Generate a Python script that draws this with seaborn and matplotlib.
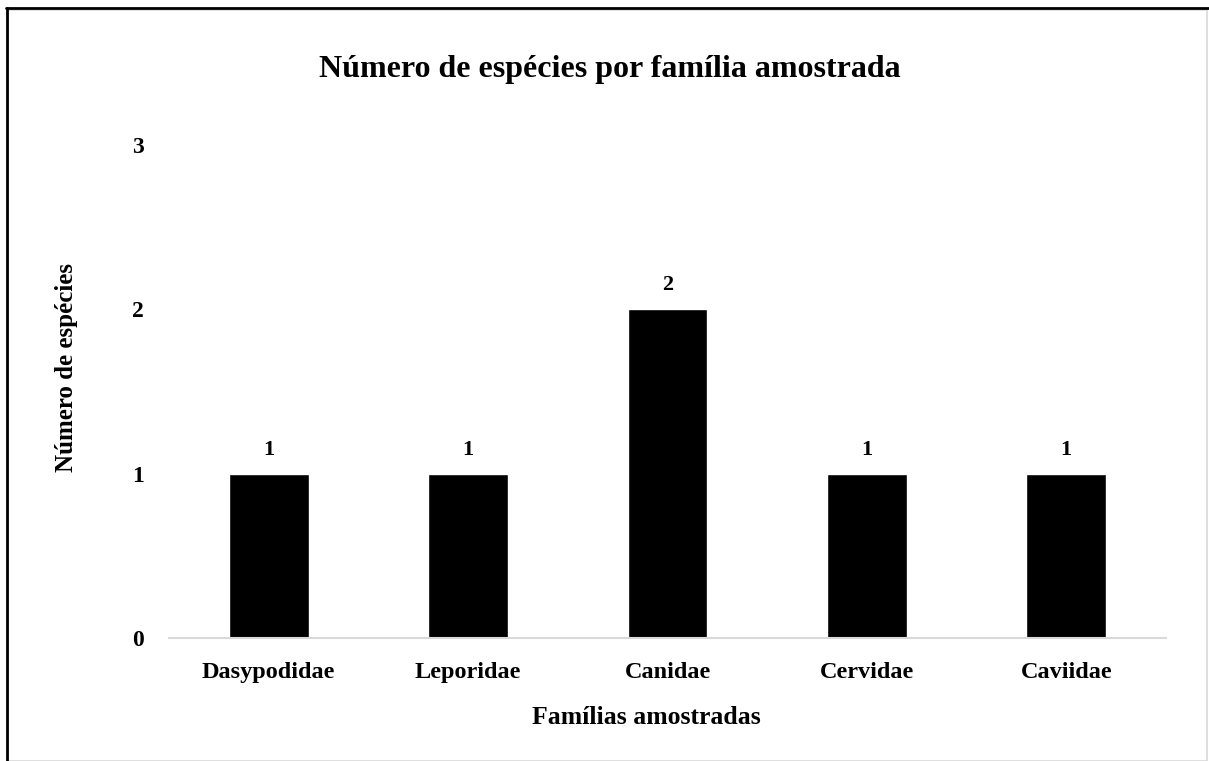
"""
Gráfico de barras: número de espécies por família amostrada.
"""

import matplotlib
matplotlib.use("Agg")
import matplotlib.pyplot as plt
import seaborn as sns
import pandas as pd
from matplotlib.lines import Line2D
from matplotlib.patches import Rectangle

# Dados
familias = ["Dasypodidae", "Leporidae", "Canidae", "Cervidae", "Caviidae"]
n_especies = [1, 1, 2, 1, 1]
yticks = [0, 1, 2, 3]

titulo = "Número de espécies por família amostrada"
rotulo_x = "Famílias amostradas"
rotulo_y = "Número de espécies"

sns.set_theme(style="white")
plt.rcParams["font.family"] = ["Liberation Serif", "DejaVu Serif"]
plt.rcParams["font.weight"] = "bold"
plt.rcParams["text.color"] = "black"
plt.rcParams["xtick.color"] = "black"
plt.rcParams["ytick.color"] = "black"
plt.rcParams["axes.labelcolor"] = "black"

df = pd.DataFrame({"familia": familias, "n": n_especies})

fig = plt.figure(figsize=(12.09, 7.61), dpi=100)
W, H = 1209, 761
# área do gráfico em pixels: x 169..1166, y 145..638
ax = fig.add_axes([169 / W, 1 - 638 / H, (1166 - 169) / W, (638 - 145) / H])

sns.barplot(data=df, x="familia", y="n", color="black", width=0.4,
            saturation=1, ax=ax)

ax.set_xlim(-0.5, len(familias) - 0.5)
ax.set_ylim(0, 3)
ax.set_yticks(yticks)
ax.set_yticklabels([str(v) for v in yticks], fontsize=17, fontweight="bold")
ax.set_xticks(range(len(familias)))
ax.set_xticklabels(familias, fontsize=17.5, fontweight="bold")
ax.tick_params(axis="y", length=0, pad=18)
ax.tick_params(axis="x", length=0, pad=17)

for s in ["top", "right", "left"]:
    ax.spines[s].set_visible(False)
ax.spines["bottom"].set_color("#d9d9d9")
ax.spines["bottom"].set_linewidth(1.5)

# rótulos de dados
for i, v in enumerate(n_especies):
    ax.annotate(str(v), (i, v), xytext=(0, 10), textcoords="offset points",
                ha="center", va="bottom", fontsize=16, fontweight="bold")

ax.set_xlabel(rotulo_x, fontsize=18.5, fontweight="bold")
ax.set_ylabel(rotulo_y, fontsize=18, fontweight="bold")
ax.xaxis.set_label_coords((646 - 169) / 997, (638 - 706) / 493)
ax.yaxis.set_label_coords((78 - 169) / 997, (638 - 367) / 493)

fig.text(610 / W, 1 - 70 / H, titulo, ha="center", va="center",
         fontsize=23, fontweight="bold")

# moldura
fig.patches.append(Rectangle((8 / W, 0), (1207 - 8) / W, 1 - 10 / H,
                             transform=fig.transFigure, fill=False,
                             edgecolor="#d9d9d9", linewidth=1.2))
fig.lines.append(Line2D([6 / W, 1], [1 - 8 / H, 1 - 8 / H],
                        transform=fig.transFigure, color="black", linewidth=2))
fig.lines.append(Line2D([7 / W, 7 / W], [0, 1 - 8 / H],
                        transform=fig.transFigure, color="black", linewidth=2))

fig.savefig("out.png", dpi=100)
plt.close(fig)
